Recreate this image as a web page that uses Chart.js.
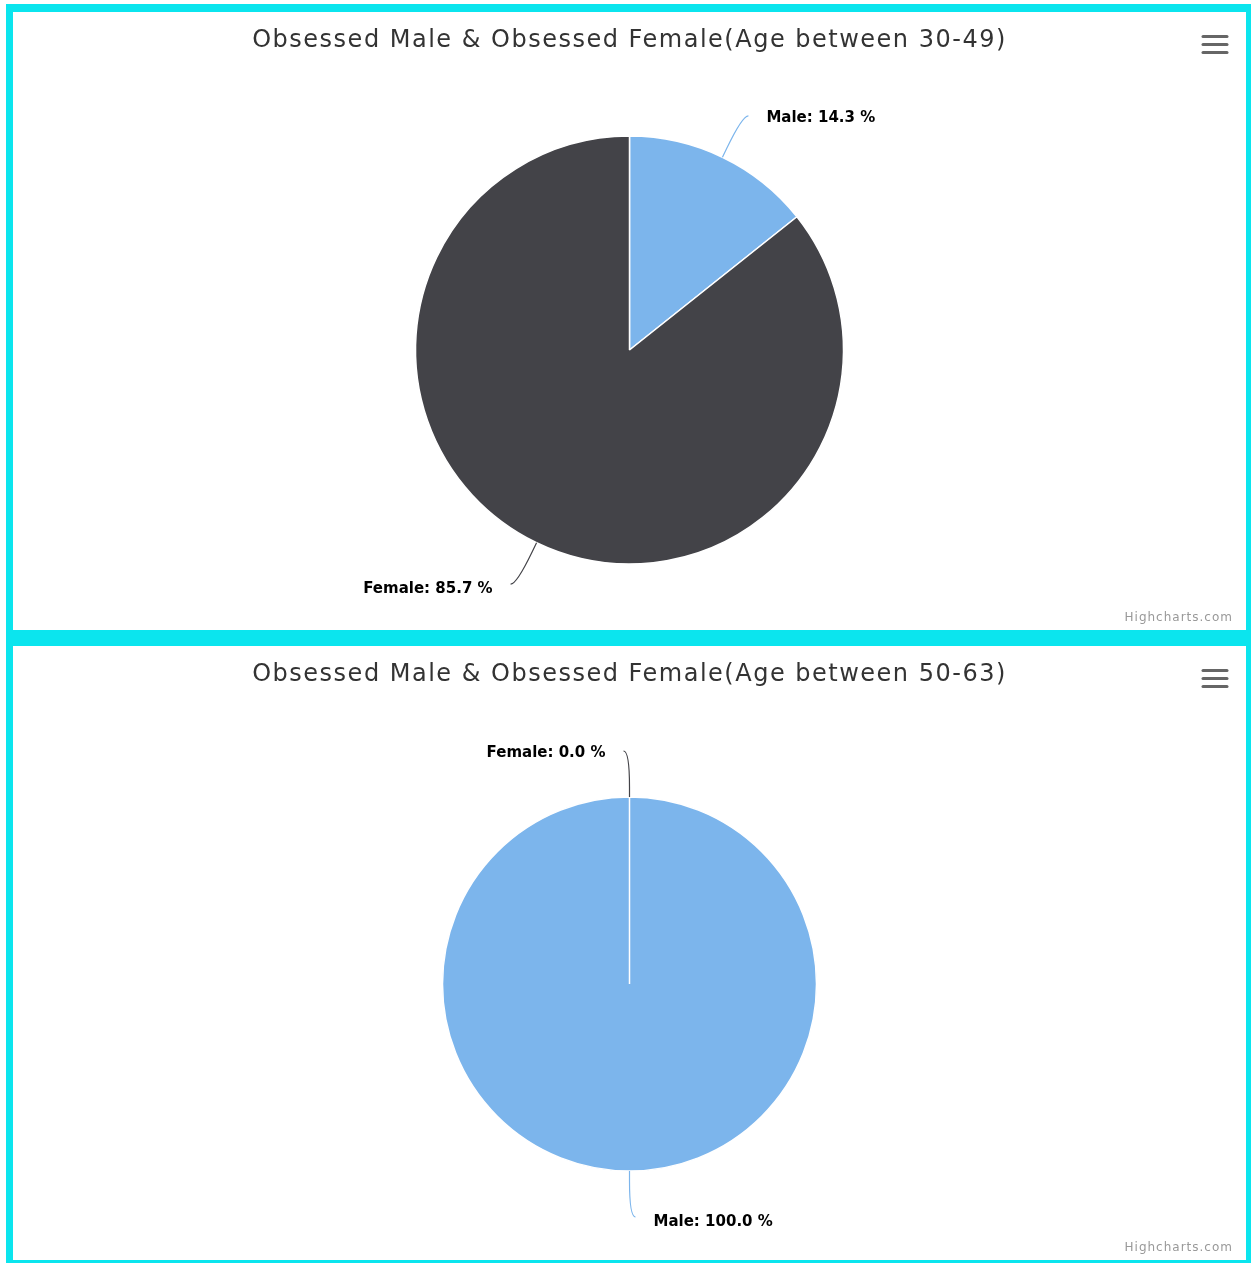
<!DOCTYPE html>
<html><head><meta charset="utf-8">
<script src="https://cdn.jsdelivr.net/npm/chart.js@4.4.0/dist/chart.umd.min.js"></script>
<style>
html,body{margin:0;padding:0;background:#fff;}
#frame{position:absolute;left:6px;top:4px;width:1245px;height:1259px;background:#0be5ee;}
.panel{position:absolute;left:13px;width:1233px;background:#fff;}
#p1{top:12px;height:618px;}
#p2{top:646px;height:614px;}
canvas{display:block;}
</style></head><body>
<div id="frame"></div>
<div class="panel" id="p1"><canvas id="c1" width="1233" height="618"></canvas></div>
<div class="panel" id="p2"><canvas id="c2" width="1233" height="614"></canvas></div>
<script>
// ---- data ----
const categories = ['Male', 'Female'];
const valuesAge30to49 = [14.3, 85.7];
const valuesAge50to63 = [100.0, 0.0];
const titleAge30to49 = 'Obsessed Male & Obsessed Female(Age between 30-49)';
const titleAge50to63 = 'Obsessed Male & Obsessed Female(Age between 50-63)';
const creditText = 'Highcharts.com';
const sliceColors = ['#7cb5ec', '#434348'];

// ---- Highcharts-like decorations: data labels with connectors, menu button, credits ----
const hcPlugin = {
  id: 'hcDecor',
  beforeDraw(chart) { chart.ctx.letterSpacing = '1.5px'; },
  beforeDatasetsDraw(chart) { chart.ctx.letterSpacing = '0px'; },
  afterDatasetsDraw(chart, args, opts) {
    const ctx = chart.ctx;
    const meta = chart.getDatasetMeta(0);
    const ds = chart.data.datasets[0];
    const d = opts.distance;
    ctx.save();
    ctx.letterSpacing = '0px';
    meta.data.forEach((arc, i) => {
      const p = arc.getProps(['x', 'y', 'startAngle', 'endAngle', 'outerRadius'], true);
      const mid = (p.startAngle + p.endAngle) / 2;
      const cos = Math.cos(mid), sin = Math.sin(mid);
      const side = (mid > Math.PI / 2 || mid < -Math.PI / 2) ? -1 : 1;
      const r = p.outerRadius;
      const ex = p.x + r * cos, ey = p.y + r * sin;
      const bx = p.x + (r + opts.breakOffset) * cos, by = p.y + (r + opts.breakOffset) * sin;
      const lx = p.x + (r + d) * cos, ly = p.y + (r + d) * sin;
      const ax = lx + side * 6;
      ctx.beginPath();
      ctx.moveTo(ax, ly);
      ctx.bezierCurveTo(lx, ly, 2 * bx - ex, 2 * by - ey, bx, by);
      ctx.lineTo(ex, ey);
      ctx.strokeStyle = ds.backgroundColor[i];
      ctx.lineWidth = 1.2;
      ctx.stroke();
      const text = chart.data.labels[i] + ': ' + Number(ds.data[i]).toFixed(1) + ' %';
      ctx.font = 'bold 15px "DejaVu Sans"';
      ctx.textAlign = side > 0 ? 'left' : 'right';
      ctx.textBaseline = 'middle';
      const tx = lx + side * 24, ty = ly + 2 + Math.max(0, sin) * 3;
      ctx.lineJoin = 'round';
      ctx.lineWidth = 2.5;
      ctx.strokeStyle = '#ffffff';
      ctx.strokeText(text, tx, ty);
      ctx.fillStyle = '#000000';
      ctx.fillText(text, tx, ty);
    });
    ctx.restore();
  },
  afterDraw(chart) {
    const ctx = chart.ctx;
    const w = chart.width, h = chart.height;
    ctx.save();
    // menu button
    ctx.strokeStyle = '#666666';
    ctx.lineWidth = 3;
    ctx.lineCap = 'round';
    [24.5, 32.5, 40.5].forEach(yy => {
      ctx.beginPath();
      ctx.moveTo(w - 43, yy);
      ctx.lineTo(w - 19, yy);
      ctx.stroke();
    });
    // credits
    ctx.letterSpacing = '1px';
    ctx.font = '12px "DejaVu Sans"';
    ctx.fillStyle = '#999999';
    ctx.textAlign = 'right';
    ctx.textBaseline = 'middle';
    ctx.fillText(creditText, w - 13, h - 12);
    ctx.restore();
  }
};

function makePie(canvasId, values, title, radius, titlePadBottom) {
  return new Chart(document.getElementById(canvasId), {
    type: 'pie',
    data: {
      labels: categories,
      datasets: [{
        data: values,
        backgroundColor: sliceColors,
        borderColor: '#ffffff',
        borderWidth: 1.5,
        hoverOffset: 0
      }]
    },
    options: {
      responsive: false,
      animation: false,
      events: [],
      radius: radius,
      layout: { padding: 0 },
      plugins: {
        legend: { display: false },
        tooltip: { enabled: false },
        title: {
          display: true,
          text: title,
          color: '#333333',
          font: { family: '"DejaVu Sans"', size: 24, weight: 'normal', lineHeight: 1.2 },
          padding: { top: 14.4, bottom: titlePadBottom }
        },
        hcDecor: { distance: 46, breakOffset: 10 }
      }
    },
    plugins: [hcPlugin]
  });
}

makePie('c1', valuesAge30to49, titleAge30to49, 214, 14.8);
makePie('c2', valuesAge50to63, titleAge50to63, 187, 18.8);
</script>
</body></html>
